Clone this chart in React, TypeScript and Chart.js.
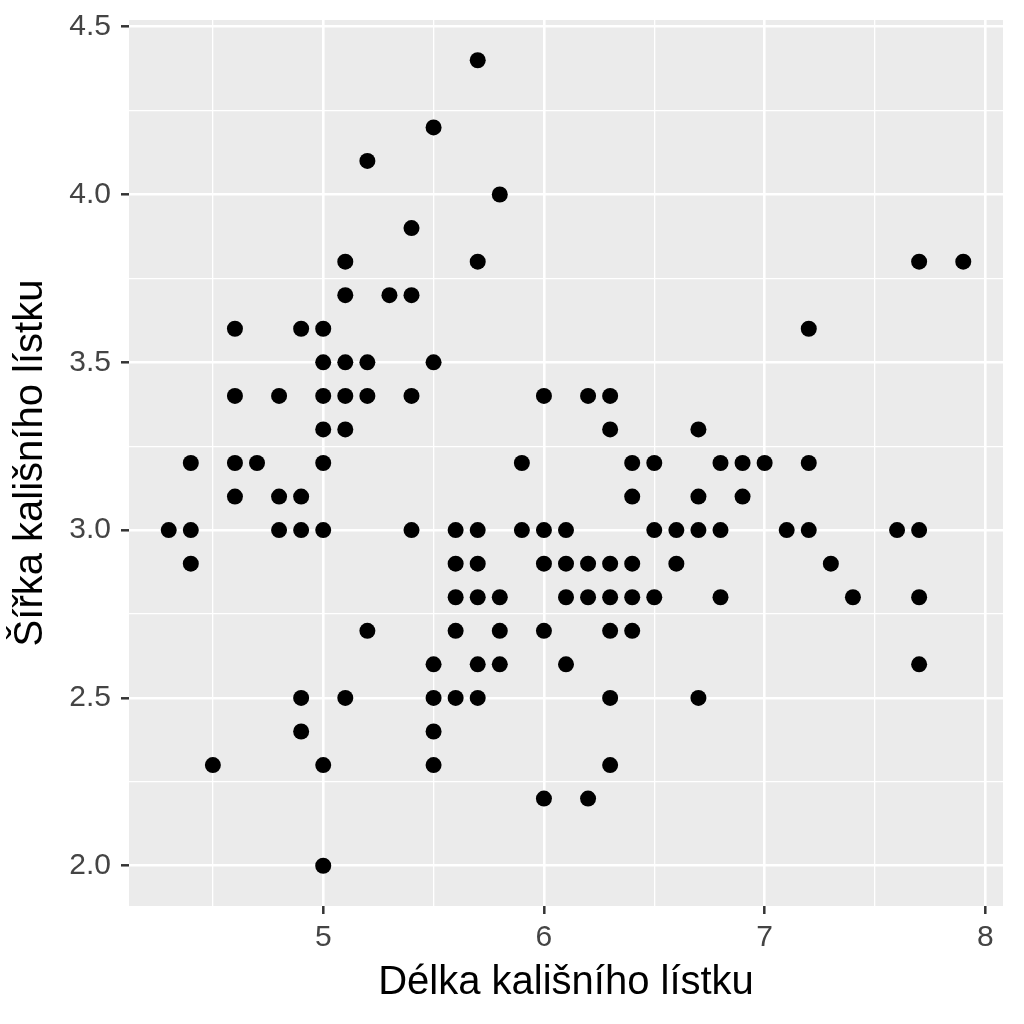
import { useEffect, useRef } from "react";
import { Chart, ChartConfiguration, registerables } from "chart.js";

Chart.register(...registerables);

// Délka (sepal length) and šířka (sepal width) — distinct points
const sepalLength = [
  4.3, 4.4, 4.4, 4.4, 4.5, 4.6, 4.6, 4.6, 4.6, 4.7, 4.8, 4.8, 4.8,
  4.9, 4.9, 4.9, 4.9, 4.9, 5.0, 5.0, 5.0, 5.0, 5.0, 5.0, 5.0, 5.0,
  5.1, 5.1, 5.1, 5.1, 5.1, 5.1, 5.2, 5.2, 5.2, 5.2, 5.3, 5.4, 5.4, 5.4, 5.4,
  5.5, 5.5, 5.5, 5.5, 5.5, 5.5, 5.6, 5.6, 5.6, 5.6, 5.6,
  5.7, 5.7, 5.7, 5.7, 5.7, 5.7, 5.7, 5.8, 5.8, 5.8, 5.8, 5.9, 5.9,
  6.0, 6.0, 6.0, 6.0, 6.0, 6.1, 6.1, 6.1, 6.1, 6.2, 6.2, 6.2, 6.2,
  6.3, 6.3, 6.3, 6.3, 6.3, 6.3, 6.3, 6.4, 6.4, 6.4, 6.4, 6.4,
  6.5, 6.5, 6.5, 6.6, 6.6, 6.7, 6.7, 6.7, 6.7, 6.8, 6.8, 6.8,
  6.9, 6.9, 7.0, 7.1, 7.2, 7.2, 7.2, 7.3, 7.4, 7.6, 7.7, 7.7, 7.7, 7.7, 7.9,
];
const sepalWidth = [
  3.0, 3.2, 3.0, 2.9, 2.3, 3.6, 3.4, 3.2, 3.1, 3.2, 3.4, 3.1, 3.0,
  3.6, 3.1, 3.0, 2.5, 2.4, 3.6, 3.5, 3.4, 3.3, 3.2, 3.0, 2.3, 2.0,
  3.8, 3.7, 3.5, 3.4, 3.3, 2.5, 4.1, 3.5, 3.4, 2.7, 3.7, 3.9, 3.7, 3.4, 3.0,
  4.2, 3.5, 2.6, 2.5, 2.4, 2.3, 3.0, 2.9, 2.8, 2.7, 2.5,
  4.4, 3.8, 3.0, 2.9, 2.8, 2.6, 2.5, 4.0, 2.8, 2.7, 2.6, 3.2, 3.0,
  3.4, 3.0, 2.9, 2.7, 2.2, 3.0, 2.9, 2.8, 2.6, 3.4, 2.9, 2.8, 2.2,
  3.4, 3.3, 2.9, 2.8, 2.7, 2.5, 2.3, 3.2, 3.1, 2.9, 2.8, 2.7,
  3.2, 3.0, 2.8, 3.0, 2.9, 3.3, 3.1, 3.0, 2.5, 3.2, 3.0, 2.8,
  3.2, 3.1, 3.2, 3.0, 3.6, 3.2, 3.0, 2.9, 2.8, 3.0, 3.8, 3.0, 2.8, 2.6, 3.8,
];

const xMajor = [5, 6, 7, 8];
const xMinor = [4.5, 5.5, 6.5, 7.5];
const yMajor = [2.0, 2.5, 3.0, 3.5, 4.0, 4.5];
const yMinor = [2.25, 2.75, 3.25, 3.75, 4.25];

const FONT = "'Liberation Sans', Arial, Helvetica, sans-serif";

const panelBg = {
  id: "panelBg",
  beforeDraw(chart: Chart) {
    const { ctx, chartArea } = chart;
    ctx.save();
    ctx.fillStyle = "#EBEBEB";
    ctx.fillRect(chartArea.left, chartArea.top, chartArea.right - chartArea.left, chartArea.bottom - chartArea.top);
    ctx.restore();
  },
};

function gridFor(major: number[]) {
  const isMajor = (v: number) => major.some((m) => Math.abs(m - v) < 1e-9);
  return {
    color: "#ffffff",
    lineWidth: (c: any) => (isMajor(c.tick.value) ? 2.6 : 1.3),
    tickColor: (c: any) => (isMajor(c.tick.value) ? "#333333" : "rgba(0,0,0,0)"),
    tickWidth: 2.5,
    tickLength: 8,
    drawTicks: true,
    drawOnChartArea: true,
  };
}

export default function App() {
  const canvasRef = useRef<HTMLCanvasElement>(null);
  const chartRef = useRef<Chart | null>(null);

  useEffect(() => {
    if (!canvasRef.current) return;
    if (chartRef.current) chartRef.current.destroy();
    const ctx = canvasRef.current.getContext("2d");
    if (!ctx) return;

    const points = sepalLength.map((x, i) => ({ x, y: sepalWidth[i] }));

    const config: ChartConfiguration = {
      type: "scatter",
      data: {
        datasets: [
          {
            data: points,
            pointRadius: 8,
            pointHoverRadius: 8,
            pointBackgroundColor: "#000000",
            pointBorderColor: "#000000",
            pointBorderWidth: 0,
          },
        ],
      },
      options: {
        animation: false,
        responsive: false,
        maintainAspectRatio: false,
        layout: { padding: { top: 20, right: 21, left: 0, bottom: 0 } },
        plugins: { legend: { display: false }, tooltip: { enabled: false } },
        scales: {
          x: {
            type: "linear",
            min: 4.12,
            max: 8.08,
            afterFit: (s: any) => {
              s.height = 118;
              s.paddingLeft = 0;
              s.paddingRight = 0;
            },
            afterBuildTicks: (s: any) => {
              s.ticks = [...xMinor, ...xMajor].sort((a, b) => a - b).map((v) => ({ value: v }));
            },
            border: { display: false },
            grid: gridFor(xMajor),
            ticks: {
              color: "#444444",
              padding: 6,
              maxRotation: 0,
              autoSkip: false,
              font: { family: FONT, size: 30 },
              callback: (v: any) => (xMajor.includes(Number(v)) ? String(v) : ""),
            },
            title: {
              display: true,
              text: "Délka kališního lístku",
              color: "#000000",
              font: { family: FONT, size: 40 },
              padding: { top: 0, bottom: 17 },
            },
          },
          y: {
            type: "linear",
            min: 1.88,
            max: 4.52,
            afterFit: (s: any) => {
              s.width = 129;
              s.paddingTop = 0;
              s.paddingBottom = 0;
            },
            afterBuildTicks: (s: any) => {
              s.ticks = [...yMinor, ...yMajor].sort((a, b) => a - b).map((v) => ({ value: v }));
            },
            border: { display: false },
            grid: gridFor(yMajor),
            ticks: {
              color: "#444444",
              padding: 10,
              autoSkip: false,
              font: { family: FONT, size: 30 },
              callback: (v: any) => {
                const n = Number(v);
                return yMajor.some((m) => Math.abs(m - n) < 1e-9) ? n.toFixed(1) : "";
              },
            },
            title: {
              display: true,
              text: "Šířka kališního lístku",
              color: "#000000",
              font: { family: FONT, size: 40 },
              padding: { top: 7, bottom: 0 },
            },
          },
        },
      },
      plugins: [panelBg],
    };

    chartRef.current = new Chart(ctx, config);
    return () => {
      if (chartRef.current) {
        chartRef.current.destroy();
        chartRef.current = null;
      }
    };
  }, []);

  return (
    <div style={{ position: "fixed", left: 0, top: 0, width: 1024, height: 1024, background: "#ffffff" }}>
      <canvas ref={canvasRef} width={1024} height={1024} style={{ width: 1024, height: 1024 }} />
    </div>
  );
}
